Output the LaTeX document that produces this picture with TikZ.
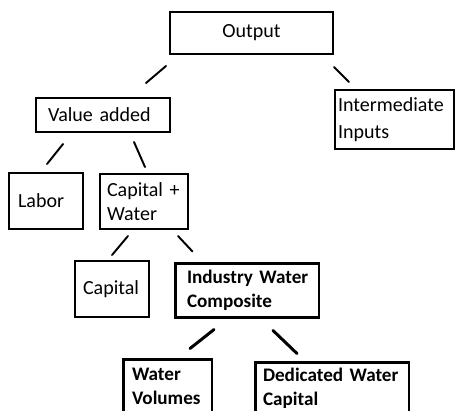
\documentclass[tikz,border=0pt]{standalone}
\usepackage{fontspec}
\setmainfont{Carlito}[WordSpace=0.6]
\begin{document}
\begin{tikzpicture}[x=0.02cm, y=-0.02cm,
  cell/.style={draw, line width=1.1pt, inner ysep=0pt, align=left,
    font=\fontsize{11.4pt}{13.6pt}\selectfont},
  cellbold/.style={cell, line width=1.7pt, font=\fontsize{10.9pt}{13.6pt}\selectfont\bfseries},
  link/.style={line width=1.1pt, line cap=round},
  linkbold/.style={line width=1.7pt, line cap=round}]

\clip (0,0) rectangle (455,410);

% Niveau 1
\node[cell, minimum width=3.26cm, minimum height=0.84cm, align=center] (out) at (251.5,33) {Output};

% Niveau 2
\node[cell, inner xsep=0.24cm, text width=2.2cm, minimum height=0.68cm] (va) at (103,115) {\mbox{Value added}};
\node[cell, inner xsep=0.06cm, text width=2.26cm, minimum height=1.18cm,
  font=\fontsize{11.4pt}{15pt}\selectfont] (ii) at (394.5,119.5) {\mbox{Intermediate}\\Inputs};

% Niveau 3
\node[cell, inner xsep=0.18cm, text width=1.12cm, minimum height=1.12cm] (lab) at (46,201) {Labor};
\node[cell, inner xsep=0.14cm, text width=1.48cm, minimum height=1.1cm] (cw) at (144,201.5) {\mbox{Capital +}\\Water};

% Niveau 4
\node[cell, inner xsep=0.16cm, text width=1.16cm, minimum height=1.12cm] (cap) at (112,289) {\mbox{Capital}};
\node[cellbold, inner xsep=0.24cm, text width=2.4cm, minimum height=1.08cm] (iwc) at (247,290) {\mbox{Industry Water}\\\mbox{Composite}};

% Niveau 5
\node[cellbold, inner xsep=0.18cm, text width=1.42cm, minimum height=1.08cm] (wv) at (167.5,386) {Water\\\mbox{Volumes}};
\node[cellbold, inner xsep=0.16cm, text width=2.76cm, minimum height=1.04cm] (dwc) at (332,388) {\mbox{Dedicated Water}\\Capital};

% Traits
\draw[link] ([shift={(-3,11)}]out.south west) -- ([shift={(-25,-14)}]va.north east);
\draw[link] ([shift={(0,12)}]out.south east) -- ([shift={(15,-7)}]ii.north west);
\draw[link] ([shift={(28,11)}]va.south west) -- ([shift={(1,-8)}]lab.north);
\draw[link] ([shift={(31,9)}]va.south) -- ([shift={(1,-6)}]cw.north);
\draw[link] ([shift={(-16,6)}]cw.south) -- ([shift={(0,-5)}]cap.north);
\draw[link] ([shift={(-11,6)}]cw.south east) -- ([shift={(19,-10)}]iwc.north west);
\draw[linkbold] ([shift={(-33,11)}]iwc.south) -- ([shift={(22.5,-9)}]wv.north);
\draw[linkbold] ([shift={(26,12)}]iwc.south) -- ([shift={(-35,-7)}]dwc.north);

\end{tikzpicture}
\end{document}
